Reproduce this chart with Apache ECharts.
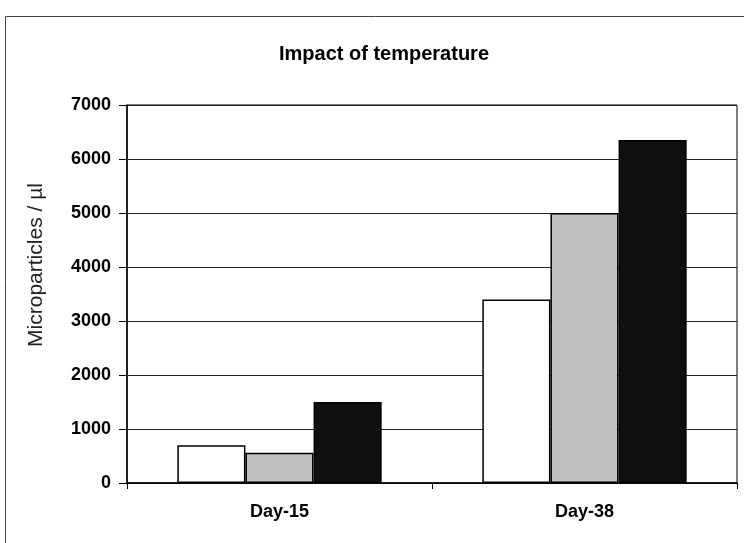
<!DOCTYPE html>
<html><head><meta charset="utf-8">
<script src="https://cdn.jsdelivr.net/npm/echarts@6/dist/echarts.min.js"></script>
<style>html,body{margin:0;padding:0;background:#fff}#c{width:744px;height:543px}</style>
</head><body><div id="c"></div>
<script>
const categories = ['Day-15', 'Day-38'];
const seriesA = [700, 3400];
const seriesB = [560, 5000];
const seriesC = [1500, 6350];
const yTicks = [0, 1000, 2000, 3000, 4000, 5000, 6000, 7000];
const titleText = 'Impact of temperature';
const yName = 'Microparticles / µl';

const chart = echarts.init(document.getElementById('c'), null, {renderer: 'canvas'});
const font = '"Liberation Sans", Arial, sans-serif';
const mk = (data, color) => ({
  type: 'bar', data: data, barGap: '0%', barCategoryGap: '33%',
  itemStyle: {color: color, borderColor: '#000', borderWidth: 1.5},
  emphasis: {disabled: true}, animation: false
});
chart.setOption({
  animation: false,
  graphic: [{type: 'rect', shape: {x: 5.5, y: 16.5, width: 800, height: 600}, style: {fill: null, stroke: '#444', lineWidth: 1}}],
  title: {text: titleText, left: 379, textAlign: 'center', top: 39, textStyle: {fontFamily: font, fontWeight: 'bold', fontSize: 20, color: '#000'}},
  grid: {left: 127, right: 7, top: 105, bottom: 60, show: true, borderColor: '#000', borderWidth: 1, backgroundColor: 'transparent'},
  xAxis: {
    type: 'category', data: categories,
    axisLine: {lineStyle: {color: '#000', width: 1.5}},
    axisTick: {show: true, length: 6, lineStyle: {color: '#000'}},
    axisLabel: {fontFamily: font, fontWeight: 'bold', fontSize: 18, color: '#000', margin: 20}
  },
  yAxis: {
    type: 'value', min: yTicks[0], max: yTicks[yTicks.length - 1], interval: yTicks[1] - yTicks[0],
    name: yName, nameLocation: 'middle', nameGap: 80,
    nameTextStyle: {fontFamily: font, fontSize: 21, color: '#222', padding: [0, 0, 0, 58]},
    axisLine: {show: true, lineStyle: {color: '#000', width: 1.5}},
    axisTick: {show: true, length: 8, lineStyle: {color: '#000'}},
    axisLabel: {fontFamily: font, fontWeight: 'bold', fontSize: 18, color: '#000', margin: 16, formatter: v => String(v)},
    splitLine: {show: true, lineStyle: {color: '#222', width: 1}}
  },
  series: [mk(seriesA, '#ffffff'), mk(seriesB, '#c0c0c0'), mk(seriesC, '#0f0f0f')]
});
</script></body></html>
